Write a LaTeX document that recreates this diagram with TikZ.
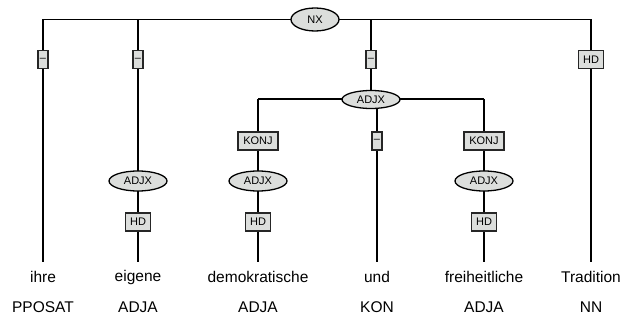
\documentclass[tikz,border=0pt]{standalone}
\usepackage{fontspec}
\setmainfont{Liberation Sans}
\usetikzlibrary{shapes.geometric}
\definecolor{nodefill}{HTML}{DCDEDC}
\tikzset{
  x=1pt,y=-1pt,
  conn/.style={line width=1.2pt,black},
  cat/.style={ellipse,draw=black,line width=1.3pt,fill=nodefill,inner sep=0pt,font=\fontsize{11}{13}\selectfont},
  edgebox/.style={rectangle,draw=black!85,line width=1.4pt,fill=nodefill,inner sep=0pt,minimum height=18pt,font=\fontsize{11}{13}\selectfont},
  word/.style={font=\fontsize{15.5}{18}\selectfont,inner sep=0pt},
}
\begin{document}
\begin{tikzpicture}
\useasboundingbox (0,0) rectangle (626,320);
% columns
\def\cA{43}\def\cB{138}\def\cC{258}\def\cD{377}\def\cE{484}\def\cF{591}
% words
\node[word] (w1) at (\cA,277) {ihre};
\node[word] (w2) at (\cB,277) {eigene};
\node[word] (w3) at (\cC,277) {demokratische};
\node[word] (w4) at (\cD,277) {und};
\node[word] (w5) at (\cE,277) {freiheitliche};
\node[word] (w6) at (\cF,277) {Tradition};
\node[word] (p1) at (\cA,307) {PPOSAT};
\node[word] (p2) at (\cB,307) {ADJA};
\node[word] (p3) at (\cC,307) {ADJA};
\node[word] (p4) at (\cD,307) {KON};
\node[word] (p5) at (\cE,307) {ADJA};
\node[word] (p6) at (\cF,307) {NN};
% leaf ends
\coordinate (e1) at (\cA,262);
\coordinate (e2) at (\cB,262);
\coordinate (e3) at (\cC,262);
\coordinate (e4) at (\cD,262);
\coordinate (e5) at (\cE,262);
\coordinate (e6) at (\cF,262);
% corners
\coordinate (t1) at (\cA,19.5);
\coordinate (t2) at (\cB,19.5);
\coordinate (t3) at (371,19.5);
\coordinate (t6) at (\cF,19.5);
\coordinate (m3) at (\cC,99);
\coordinate (m5) at (\cE,99);
% connectors first (behind nodes)
\draw[conn] (t1) -- (t6);
\draw[conn] (t1) -- (e1);
\draw[conn] (t2) -- (e2);
\draw[conn] (t3) -- (371,99);
\draw[conn] (t6) -- (e6);
\draw[conn] (m3) -- (m5);
\draw[conn] (m3) -- (e3);
\draw[conn] (m5) -- (e5);
\draw[conn] (\cD,99) -- (e4);
% category nodes
\node[cat,minimum width=48pt,minimum height=23pt] (nx) at (315,19.5) {NX};
\node[cat,minimum width=58pt,minimum height=18pt] (adjxm) at (371,99.5) {ADJX};
\node[cat,minimum width=58pt,minimum height=20pt] (adjx2) at (\cB,181) {ADJX};
\node[cat,minimum width=58pt,minimum height=20pt] (adjx3) at (\cC,181) {ADJX};
\node[cat,minimum width=58pt,minimum height=20pt] (adjx5) at (\cE,181) {ADJX};
% edge labels
\node[edgebox,minimum width=10pt] (l1) at (\cA,59.5) {–};
\node[edgebox,minimum width=10pt] (l2) at (\cB,59.5) {–};
\node[edgebox,minimum width=10pt] (l3) at (371,59.5) {–};
\node[edgebox,minimum width=25pt] (l6) at (\cF,59.5) {HD};
\node[edgebox,minimum width=40pt] (k3) at (\cC,141) {KONJ};
\node[edgebox,minimum width=10pt] (k4) at (\cD,141) {–};
\node[edgebox,minimum width=40pt] (k5) at (\cE,141) {KONJ};
\node[edgebox,minimum width=25pt] (h2) at (\cB,222) {HD};
\node[edgebox,minimum width=25pt] (h3) at (\cC,222) {HD};
\node[edgebox,minimum width=25pt] (h5) at (\cE,222) {HD};
\end{tikzpicture}
\end{document}
